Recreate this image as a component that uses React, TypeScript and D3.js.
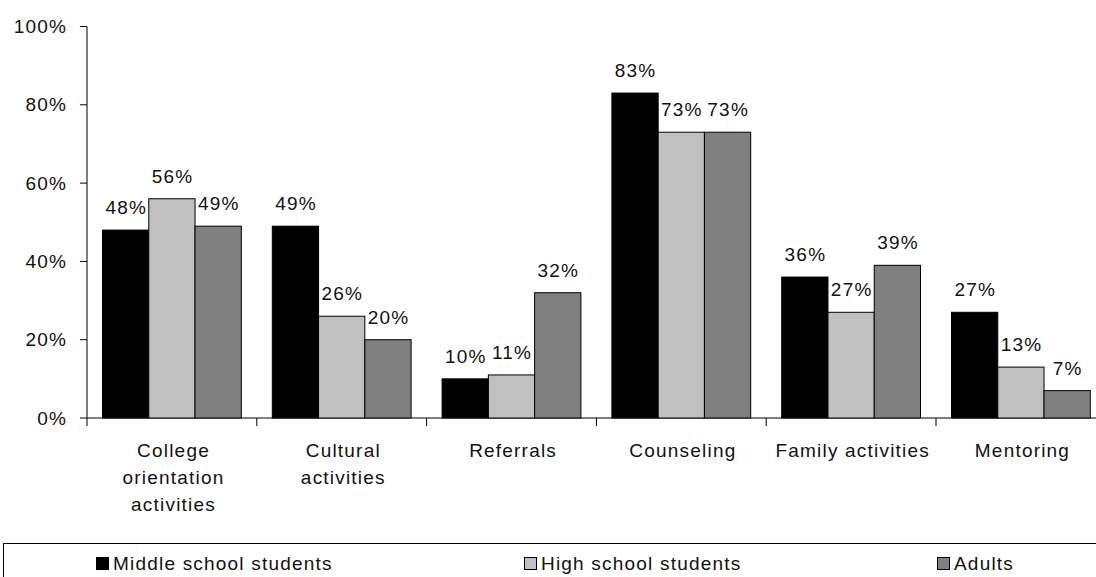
import React from "react";
import * as d3 from "d3";

const categories = [
  ["College", "orientation", "activities"],
  ["Cultural", "activities"],
  ["Referrals"],
  ["Counseling"],
  ["Family activities"],
  ["Mentoring"],
];
const seriesNames = ["Middle school students", "High school students", "Adults"];
const seriesColors = ["#000000", "#c0c0c0", "#808080"];
const middleSchool = [48, 49, 10, 83, 36, 27];
const highSchool = [56, 26, 11, 73, 27, 13];
const adults = [49, 20, 32, 73, 39, 7];
const yTicks = [0, 20, 40, 60, 80, 100];

const seriesValues = [middleSchool, highSchool, adults];

const W = 1096;
const H = 577;
const left = 87;
const catW = 169.8;
const top = 26.5;
const bottom = 418;
const font = "'Liberation Sans', Arial, sans-serif";
const fs = 19;
const ls = 1.2;

export default function App() {
  const idx = categories.map((_, i) => String(i));
  const x0 = d3.scaleBand().domain(idx).range([left, left + catW * categories.length]).padding(0);
  const x1 = d3.scaleBand().domain(["0", "1", "2"]).range([15.5, catW - 15.5]).padding(0);
  const y = d3.scaleLinear().domain([0, 100]).range([bottom, top]);

  return (
    <svg width={W} height={H} style={{ position: "absolute", left: 0, top: 0, background: "#fff" }}
      fontFamily={font} fontSize={fs} fill="#111">
      <rect x={0} y={0} width={W} height={H} fill="#fff" />
      {/* y axis */}
      <line x1={left} x2={left} y1={y(100)} y2={bottom + 8} stroke="#000" />
      {yTicks.map((t) => (
        <g key={t}>
          <line x1={left - 7} x2={left} y1={y(t)} y2={y(t)} stroke="#000" />
          <text x={66 + ls} y={y(t)} dy="0.35em" textAnchor="end" letterSpacing={ls}>{t}%</text>
        </g>
      ))}
      {/* x axis */}
      <line x1={left} x2={W} y1={bottom} y2={bottom} stroke="#000" />
      {idx.map((c) => (
        <line key={c} x1={x0(c)! + catW} x2={x0(c)! + catW} y1={bottom} y2={bottom + 8} stroke="#000" />
      ))}
      {/* bars */}
      {idx.map((c, ci) =>
        seriesValues.map((vals, si) => {
          const v = vals[ci];
          const bx = x0(c)! + x1(String(si))!;
          const bw = x1.bandwidth();
          return (
            <g key={c + "-" + si}>
              <rect x={bx} y={y(v)} width={bw} height={bottom - y(v)} fill={seriesColors[si]} stroke="#000" strokeWidth={1} />
              <text x={bx + bw / 2 + ls / 2} y={y(v) - 16} textAnchor="middle" letterSpacing={ls}>{v}%</text>
            </g>
          );
        })
      )}
      {/* category labels */}
      {categories.map((lines, ci) => (
        <text key={ci} textAnchor="middle" letterSpacing={ls}>
          {lines.map((ln, li) => (
            <tspan key={li} x={x0(String(ci))! + catW / 2 + 1 + ls / 2} y={457 + li * 27}>{ln}</tspan>
          ))}
        </text>
      ))}
      {/* legend */}
      <rect x={3.5} y={543.5} width={W + 10} height={50} fill="none" stroke="#000" />
      {seriesNames.map((n, i) => {
        const lx = [96, 524, 937][i];
        return (
          <g key={n}>
            <rect x={lx + 0.5} y={557.5} width={12} height={12} fill={seriesColors[i]} stroke="#000" />
            <text x={lx + 17} y={570} letterSpacing={ls}>{n}</text>
          </g>
        );
      })}
    </svg>
  );
}
